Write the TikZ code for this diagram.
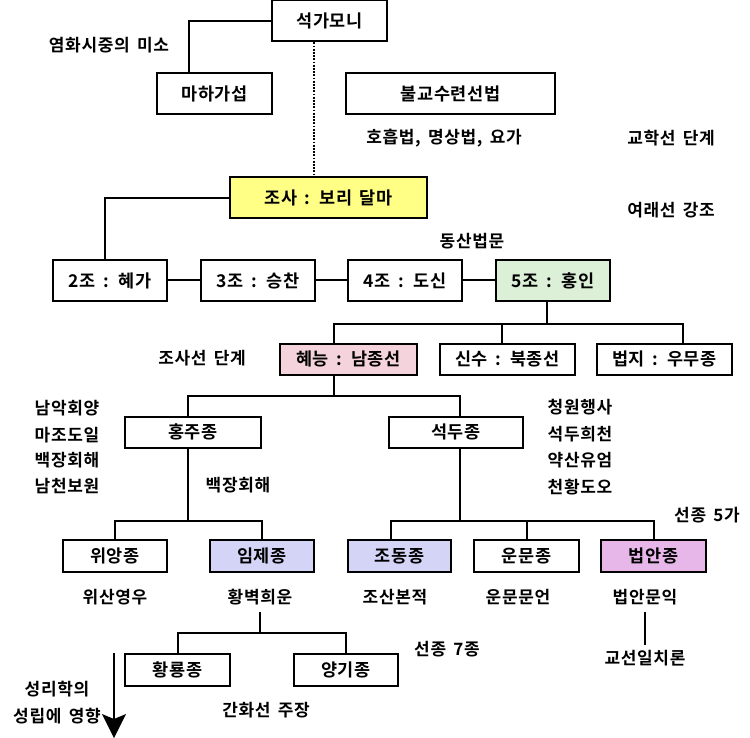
\documentclass[tikz,border=0pt]{standalone}
\usepackage{fontspec}
\setmainfont{Noto Sans CJK KR}[BoldFont={Noto Sans CJK KR Bold}, LetterSpace=4, WordSpace=1.6]
\usepackage{xcolor}
\usepackage{tikz}
\usetikzlibrary{arrows.meta,positioning}
\definecolor{dalmayellow}{HTML}{FFFF85}
\definecolor{hongingreen}{HTML}{DCEFD7}
\definecolor{huinengpink}{HTML}{F5D3DD}
\definecolor{linjilav}{HTML}{D4D4F7}
\definecolor{fayanorchid}{HTML}{E7B7EA}

\begin{document}
\begin{tikzpicture}[
    x=1pt, y=-1pt,
    box/.style={rectangle, draw, line width=2pt, minimum height=41pt, inner sep=0pt, font=\fontsize{17.5}{20}\selectfont\bfseries},
    lowbox/.style={box, minimum height=31pt},
    note/.style={inner sep=0pt, font=\fontsize{17}{20}\selectfont\bfseries},
    link/.style={line width=2pt},
    arrow/.style={-{Stealth[length=24pt, width=24pt, inset=5pt, line width=0pt]}, line width=2pt}
]
\useasboundingbox (0,0) rectangle (750,738);
\fill[white] (0,0) rectangle (750,738);

\node[box, minimum width=115pt] (sakya) at (329.5,21) {석가모니};
\node[box, minimum width=115pt] (kasyapa) at (214.5,93.5) {마하가섭};
\node[box, minimum width=209pt, right=72pt of kasyapa] (practice) {불교수련선법};
\node[note] (smile) at (109,45) {염화시중의 미소};
\node[note] (breath) at (444,138) {호흡법, 명상법, 요가};
\node[note] (doctrine) at (671,138) {교학선 단계};
\draw[link] (sakya.west) -| ([xshift=-26pt]kasyapa.north);

\node[box, fill=dalmayellow, minimum width=197pt] (dalma) at (328.5,198) {조사 : 보리 달마};
\node[note] (tathagata) at (671,210) {여래선 강조};
\draw[link, line width=2pt, dash pattern=on 1.8pt off 1.4pt] ([xshift=-16pt]sakya.south) -- ([xshift=-15pt]dalma.north);

\node[box, minimum width=114pt] (huike) at (110,280.5) {2조 : 혜가};
\node[box, minimum width=114pt, right=32pt of huike] (sengcan) {3조 : 승찬};
\node[box, minimum width=114pt, right=31pt of sengcan] (daoxin) {4조 : 도신};
\node[box, fill=hongingreen, minimum width=114pt, right=32pt of daoxin] (hongren) {5조 : 홍인};
\node[note] (dongshan) at (472,241) {동산법문};
\draw[link] (dalma.west) -| ([xshift=-5pt]huike.north);
\draw[link] (huike) -- (sengcan);
\draw[link] (sengcan) -- (daoxin);
\draw[link] (daoxin) -- (hongren);

\node[lowbox, fill=huinengpink, minimum width=137pt] (huineng) at (348.5,359) {혜능 : 남종선};
\node[lowbox, minimum width=135pt, right=21pt of huineng] (shenxiu) {신수 : 북종선};
\node[lowbox, minimum width=135pt, right=20pt of shenxiu] (fazhi) {법지 : 우무종};
\node[note] (patriarch) at (202,358) {조사선 단계};
\draw[link] ([xshift=-6pt]hongren.south) -- ++(0,22) coordinate (bus5);
\draw[link] ([xshift=-15pt]huineng.north) |- (bus5) -| ([xshift=18pt]fazhi.north);
\draw[link] ([xshift=-6pt]shenxiu.north) -- ([xshift=-6pt]shenxiu.north |- bus5);

\node[lowbox, minimum width=136pt] (hongzhou) at (193,432) {홍주종};
\node[lowbox, minimum width=134pt, right=126pt of hongzhou] (shitou) {석두종};
\node[note] (nanyue) at (67,408) {남악회양};
\node[note] (mazu) at (67,435) {마조도일};
\node[note] (baizhangl) at (67,460) {백장회해};
\node[note] (nanquan) at (67,486) {남천보원};
\node[note] (qingyuan) at (580,407) {청원행사};
\node[note] (xiqian) at (580,434) {석두희천};
\node[note] (yaoshan) at (580,460) {약산유엄};
\node[note] (tianhuang) at (580,487) {천황도오};
\node[note] (baizhang) at (238,485) {백장회해};
\draw[link] ([xshift=-15pt]huineng.south) -- ++(0,20) coordinate (bus6);
\draw[link] ([xshift=-5pt]hongzhou.north) |- (bus6) -| ([xshift=4pt]shitou.north);

\node[lowbox, minimum width=104pt, minimum height=32pt] (weiyang) at (115,556) {위앙종};
\node[lowbox, fill=linjilav, minimum width=104pt, minimum height=32pt, right=41pt of weiyang] (linji) {임제종};
\node[lowbox, fill=linjilav, minimum width=103pt, minimum height=32pt, right=32pt of linji] (caodong) {조동종};
\node[lowbox, minimum width=105pt, minimum height=32pt, right=21pt of caodong] (yunmen) {운문종};
\node[lowbox, fill=fayanorchid, minimum width=105pt, minimum height=32pt, right=20pt of yunmen] (fayan) {법안종};
\node[note] (fivehouses) at (707,515) {선종 5가};
\node[note] (guishan) at (115,597) {위산영우};
\node[note] (huangbo) at (260,597) {황벽희운};
\node[note] (caoshan) at (395,597) {조산본적};
\node[note] (wenyan) at (518,597) {운문문언};
\node[note] (wenyi) at (645,597) {법안문익};
\node[note] (unity) at (645,658) {교선일치론};
\draw[link] ([xshift=-5pt]hongzhou.south) -- ++(0,72) coordinate (bus7);
\draw[link] (weiyang.north) |- (bus7) -| (linji.north);
\draw[link] ([xshift=4pt]shitou.south) -- ++(0,72) coordinate (bus8);
\draw[link] ([xshift=-9pt]caodong.north) |- (bus8) -| (fayan.north);
\draw[link] (yunmen.north) -- (yunmen.north |- bus8);
\draw[link] ([yshift=-7pt]wenyi.south) -- ([yshift=5pt]unity.north);

\node[lowbox, minimum width=105pt, minimum height=32pt] (huanglong) at (177.5,670) {황룡종};
\node[lowbox, minimum width=104pt, minimum height=32pt, right=62pt of huanglong] (yangqi) {양기종};
\node[note] (sevenhouses) at (447,649) {선종 7종};
\node[note] (kanhua) at (266,710) {간화선 주장};
\node[note, align=center, font=\fontsize{17}{27}\selectfont\bfseries] (neo) at (57,703) {성리학의\\성립에 영향};
\draw[link] ([yshift=-7pt]huangbo.south) -- ++(0,21) coordinate (bus9);
\draw[link] (huanglong.north) |- (bus9) -| (yangqi.north);

\coordinate (arrowtop) at (114,653);
\coordinate (arrowtip) at (114,738);
\draw[arrow] (arrowtop) -- (arrowtip);
\end{tikzpicture}
\end{document}
